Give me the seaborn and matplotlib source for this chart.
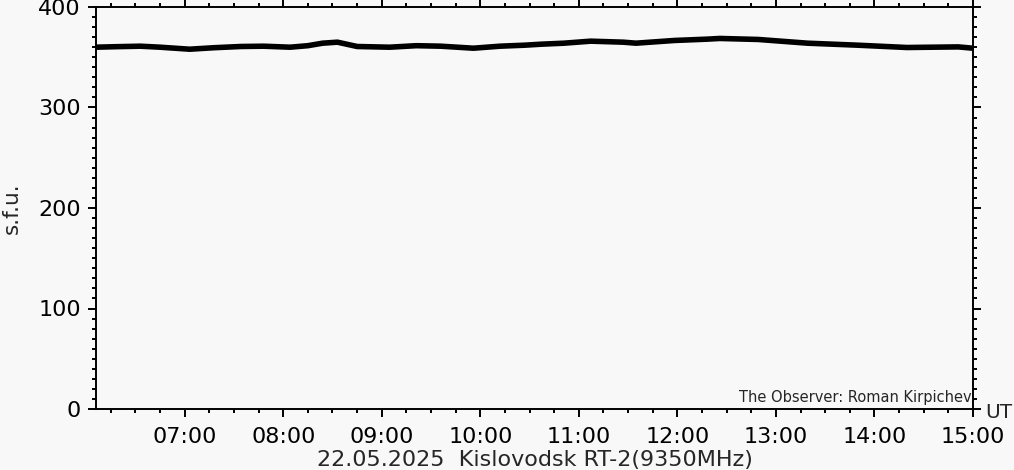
import matplotlib
matplotlib.use("Agg")
import numpy as np
import pandas as pd
import seaborn as sns
import matplotlib.pyplot as plt
from matplotlib.ticker import MultipleLocator, FuncFormatter

# Flux readings (UT hours, s.f.u.)
hours = [6.10, 6.30, 6.55, 6.75, 7.05, 7.30, 7.57, 7.80, 8.07, 8.25, 8.40, 8.55, 8.75,
         9.08, 9.35, 9.60, 9.93, 10.20, 10.45, 10.62, 10.85, 11.12, 11.45, 11.58,
         11.97, 12.30, 12.43, 12.82, 13.32, 13.83, 14.33, 14.85, 15.00]
flux = [360, 360.5, 361, 360, 358, 359.5, 360.7, 361, 360, 361.5, 364, 365, 360.7,
        360, 361.5, 361, 359, 361, 362, 363, 364, 366, 365, 364,
        366.7, 368, 368.7, 367.7, 364, 362, 359.7, 360.3, 359]

yticks = [0, 100, 200, 300, 400]
title = "22.05.2025  Kislovodsk RT-2(9350MHz)"
observer = "The Observer: Roman Kirpichev"

data = pd.DataFrame({"hour": hours, "sfu": flux})

sns.set_style("ticks")
bg = "#f8f8f8"
plt.rcParams["font.family"] = ["DejaVu Sans"]

fig = plt.figure(figsize=(10.14, 4.70), dpi=100, facecolor=bg)
ax = fig.add_axes([96 / 1014, 61 / 470, 877 / 1014, 402 / 470])
ax.set_facecolor(bg)

sns.lineplot(data=data, x="hour", y="sfu", color="black", linewidth=4, ax=ax)

ax.set_xlim(6.10, 15.0)
ax.set_ylim(0, 400)
ax.set_yticks(yticks)
ax.xaxis.set_major_locator(MultipleLocator(1))
ax.xaxis.set_minor_locator(MultipleLocator(0.25))
ax.yaxis.set_minor_locator(MultipleLocator(10))
ax.xaxis.set_major_formatter(FuncFormatter(lambda v, p: "%02d:00" % int(round(v))))

for s in ax.spines.values():
    s.set_visible(True)
    s.set_linewidth(1.4)
    s.set_color("black")

ax.tick_params(which="both", direction="out", top=True, right=True,
               labelsize=16, colors="black", width=1.4)
ax.tick_params(which="major", length=6)
ax.tick_params(which="minor", length=3)
ax.tick_params(axis="x", which="major", pad=7)
ax.tick_params(axis="y", which="major", pad=5)

ax.set_xlabel(title, fontsize=16, labelpad=2)
ax.set_ylabel("s.f.u.", fontsize=15.5, labelpad=12)

ax.text(0.999, 0.01, observer, transform=ax.transAxes, ha="right", va="bottom",
        fontsize=10.5)
ax.text(1.0135, -0.008, "UT", transform=ax.transAxes, ha="left", va="center",
        fontsize=14.5)

fig.savefig("out.png", dpi=100, facecolor=bg)
